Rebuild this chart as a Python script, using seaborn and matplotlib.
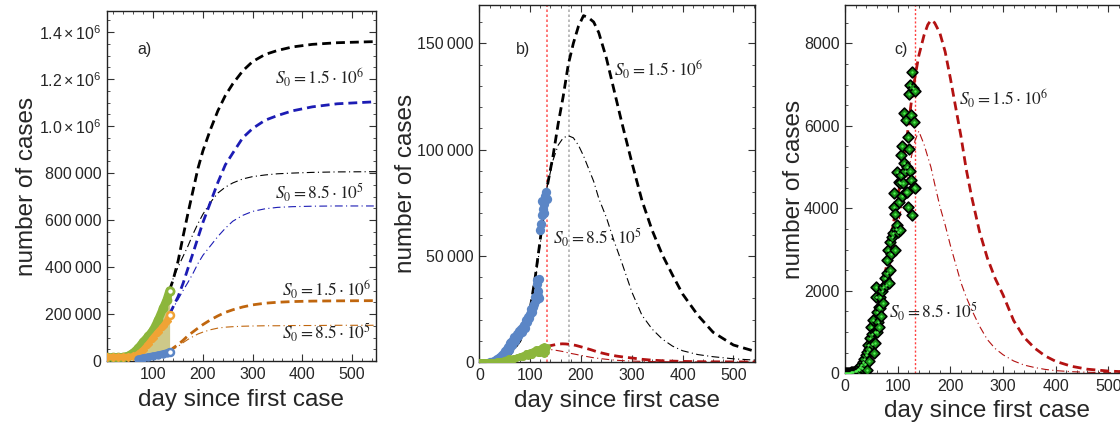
import matplotlib
matplotlib.use('Agg')
import matplotlib.pyplot as plt
import seaborn as sns
from matplotlib.ticker import AutoMinorLocator, FuncFormatter, MultipleLocator

# ---- panel a : cumulative data ----
a_days = [7, 20, 30, 40, 50, 60, 70, 80, 90, 100, 110, 120, 127, 133]
a_green = [15e3, 15e3, 15e3, 17e3, 22e3, 35e3, 55e3, 82e3, 105e3, 132e3, 175e3, 225e3, 260e3, 300e3]
a_orange = [17e3, 17e3, 17e3, 17e3, 18e3, 20e3, 30e3, 48e3, 72e3, 100e3, 125e3, 148e3, 170e3, 195e3]
a_blue_days = [70, 80, 90, 100, 110, 120, 127, 133]
a_blue = [8e3, 14e3, 18e3, 22e3, 26e3, 31e3, 35e3, 40e3]

# ---- panel a : model curves ----
t_a = [133, 140, 150, 160, 170, 180, 190, 200, 215, 230, 245, 260, 280, 300, 325, 350, 380, 420, 470, 550]
a_black_15 = [302e3, 345e3, 425e3, 530e3, 630e3, 725e3, 820e3, 895e3, 985e3, 1065e3, 1130e3, 1180e3,
              1235e3, 1275e3, 1305e3, 1322e3, 1337e3, 1348e3, 1355e3, 1360e3]
a_black_85 = [302e3, 350e3, 400e3, 445e3, 490e3, 540e3, 585e3, 625e3, 675e3, 715e3, 740e3, 758e3,
              775e3, 785e3, 792e3, 797e3, 800e3, 803e3, 805e3, 806e3]
a_blue_15 = [200e3, 230e3, 274e3, 330e3, 395e3, 459e3, 525e3, 590e3, 675e3, 760e3, 835e3, 885e3,
             950e3, 990e3, 1025e3, 1045e3, 1065e3, 1082e3, 1095e3, 1104e3]
a_blue_85 = [200e3, 225e3, 262e3, 300e3, 335e3, 373e3, 415e3, 450e3, 490e3, 530e3, 565e3, 595e3,
             620e3, 637e3, 648e3, 654e3, 657e3, 659e3, 660e3, 660e3]
a_orange_15 = [40e3, 55e3, 70e3, 88e3, 108e3, 124e3, 140e3, 155e3, 175e3, 192e3, 207e3, 218e3,
               230e3, 239e3, 246e3, 250e3, 253e3, 255e3, 256e3, 257e3]
a_orange_85 = [40e3, 50e3, 62e3, 78e3, 92e3, 104e3, 115e3, 123e3, 133e3, 140e3, 144e3, 146e3,
               148e3, 149e3, 150e3, 150e3, 151e3, 151e3, 152e3, 152e3]

# ---- panel b : daily data (blue country) ----
b_blue_days = [20, 24, 28, 32, 35, 38, 40, 42, 44, 46, 48, 50, 52, 54, 56, 58, 60, 62, 64, 66, 68, 70,
               72, 74, 76, 78, 80, 82, 84, 86, 88, 90, 92, 94, 96, 98, 100, 102, 104, 106, 108, 110,
               112, 113, 114, 115, 116, 117, 118, 120, 122, 123, 124, 126, 127, 128, 130, 132, 133]
b_blue = [0, 200, 500, 800, 1200, 1800, 2500, 1500, 3200, 2800, 4200, 5000, 3900, 6000, 7200, 5800,
          8800, 9500, 7800, 10400, 12000, 9800, 11500, 13000, 12400, 14500, 13500, 15600, 14200, 16600,
          17500, 16000, 19800, 18600, 21400, 20500, 22500, 24800, 23500, 26000, 27500, 30800, 29200,
          38600, 36500, 33500, 31000, 30000, 39000, 62000, 65000, 76000, 69000, 72000, 74500, 70000,
          78000, 80000, 76500]

# ---- panel b : model curves ----
t_b = [0, 20, 40, 60, 80, 90, 100, 110, 120, 133, 145, 155, 165, 175, 185, 195, 205, 215, 225, 235,
       250, 265, 280, 300, 320, 340, 360, 380, 400, 430, 460, 500, 550]
b_black_15 = [0, 200, 1000, 3500, 10000, 16000, 25000, 40000, 58000, 82000, 97000, 112000, 125000,
              140000, 150000, 158000, 163000, 162000, 160000, 155000, 143000, 128000, 113000, 94000,
              76000, 62000, 50500, 41000, 32000, 22000, 14000, 8000, 4500]
b_black_85 = [0, 200, 1000, 3300, 9500, 15000, 24000, 38000, 56000, 82000, 95000, 102000, 105500,
              106500, 105500, 102000, 97000, 91000, 85000, 77000, 68000, 57000, 47000, 33000, 22000,
              15500, 10800, 7500, 5300, 3500, 2500, 1500, 800]

# ---- panel c : daily data (green country), also shown in b ----
c_days = [0, 2, 4, 6, 8, 10, 12, 14, 16, 18, 20, 22, 24, 26, 28, 30, 32, 34, 36, 38, 40, 41, 42, 44,
          45, 46, 48, 50, 51, 52, 54, 55, 56, 57, 58, 59, 60, 61, 62, 64, 65, 66, 67, 68, 70, 72, 73,
          75, 77, 79, 80, 82, 83, 85, 86, 88, 90, 91, 92, 93, 94, 95, 96, 98, 99, 101, 102, 103, 104,
          105, 106, 107, 108, 109, 110, 111, 112, 113, 115, 116, 117, 118, 119, 120, 121, 122, 123,
          124, 125, 126, 127, 128, 129, 130, 131, 132, 133]
c_cases = [0, 0, 5, 0, 10, 15, 20, 35, 30, 50, 60, 80, 110, 90, 160, 200, 140, 280, 350, 230, 450, 80,
           520, 686, 300, 600, 850, 1131, 700, 950, 1293, 485, 1000, 727, 1858, 2085, 1495, 1010, 1250,
           1600, 1131, 1858, 1576, 1400, 2000, 2100, 1700, 2300, 2150, 2424, 2747, 2990, 2200, 2505,
           3192, 2900, 3300, 3394, 4030, 4360, 3870, 2990, 3500, 3596, 4888, 3435, 4160, 4645, 3475,
           4607, 5290, 4807, 4300, 5500, 4605, 5100, 6300, 4900, 6140, 4404, 4400, 5000, 4030, 5720,
           5450, 6770, 4910, 6988, 4686, 6260, 3830, 7311, 6907, 4520, 6100, 4485, 6850]

# ---- panel c : model curves (also in b) ----
t_c = [0, 10, 20, 30, 40, 50, 60, 70, 80, 90, 100, 110, 117, 125, 133, 140, 150, 157, 163, 170, 180,
       190, 200, 210, 220, 230, 240, 255, 270, 285, 300, 320, 340, 360, 380, 400, 430, 460, 500, 550]
c_red_15 = [0, 10, 60, 200, 480, 900, 1400, 2000, 2700, 3500, 4250, 5050, 5657, 6500, 7200, 7700,
            8200, 8450, 8565, 8500, 8250, 7800, 7150, 6450, 5750, 4950, 4300, 3450, 2800, 2300, 1900,
            1280, 870, 610, 420, 290, 170, 100, 55, 25]
c_red_85 = [0, 8, 45, 150, 380, 750, 1150, 1650, 2250, 2900, 3550, 4200, 4690, 5200, 5650, 5870,
            5550, 5250, 5000, 4600, 4050, 3600, 3100, 2650, 2200, 1850, 1550, 1150, 820, 600, 450,
            300, 200, 140, 95, 65, 40, 25, 15, 8]

lab15 = r'$S_0 = 1.5 \cdot 10^6$'
lab85 = r'$S_0 = 8.5 \cdot 10^5$'

sns.set_style('ticks')
plt.rcParams['font.family'] = ['Liberation Sans', 'DejaVu Sans']
plt.rcParams['mathtext.fontset'] = 'custom'
plt.rcParams['mathtext.rm'] = 'Liberation Sans'
plt.rcParams['mathtext.it'] = 'Liberation Sans:italic'
plt.rcParams['axes.edgecolor'] = '#222222'
plt.rcParams['axes.linewidth'] = 1.0

DASH = (3.2, 1.8)
DASHDOT = (7, 3, 1, 3)


def curve(ax, x, y, color, kind):
    if kind == 'dash':
        sns.lineplot(x=x, y=y, ax=ax, color=color, lw=2.0, sort=False, estimator=None)
        ax.lines[-1].set_dashes(DASH)
    else:
        sns.lineplot(x=x, y=y, ax=ax, color=color, lw=0.8, sort=False, estimator=None)
        ax.lines[-1].set_dashes(DASHDOT)


def label(ax, x, y, s):
    ax.text(x, y, s, fontsize=12.5, va='center', ha='left', math_fontfamily='stix', color='#222222')


def frame(ax, ymaj, ymin_n):
    ax.xaxis.set_major_locator(MultipleLocator(100))
    ax.xaxis.set_minor_locator(AutoMinorLocator(5))
    ax.yaxis.set_major_locator(MultipleLocator(ymaj))
    ax.yaxis.set_minor_locator(AutoMinorLocator(ymin_n))
    ax.tick_params(which='both', direction='in', top=True, right=True, labelsize=11.5,
                   color='#333333', pad=4)
    ax.tick_params(which='major', length=5, width=0.8)
    ax.tick_params(which='minor', length=2.5, width=0.6)
    for s in ax.spines.values():
        s.set_visible(True)
    ax.set_xlabel('day since first case', fontsize=17.5)
    ax.set_ylabel('number of cases', fontsize=17.5)


def fmt_a(v, pos):
    if v == 0:
        return '0'
    if v >= 1e6 - 1:
        return r'$%.1f\times10^{6}$' % (v / 1e6)
    return '%d\u2009000' % round(v / 1000)


def fmt_b(v, pos):
    if v == 0:
        return '0'
    return '%d\u2009000' % round(v / 1000)


fig = plt.figure(figsize=(11.2, 4.25), dpi=100)
ax_a = fig.add_axes([0.0955, 0.1506, 0.2402, 0.8235])
ax_b = fig.add_axes([0.4280, 0.1482, 0.2459, 0.8400])
ax_c = fig.add_axes([0.7545, 0.1216, 0.2587, 0.8666])

# ---------------- panel a ----------------
ax = ax_a
green_fill = [a_green[a_days.index(d)] for d in a_blue_days]
ax.fill_between(a_blue_days, a_blue, green_fill, color='#c9c47c', alpha=0.9, lw=0, zorder=1)
ax.plot(a_days, a_green, color='#8cb63c', lw=6, marker='o', ms=6, zorder=3, solid_capstyle='round')
ax.plot(a_days, a_orange, color='#f0a335', lw=4.5, marker='D', ms=4, zorder=3, solid_capstyle='round')
ax.plot(a_blue_days, a_blue, color='#5b86c6', lw=5, marker='o', ms=5, zorder=3, solid_capstyle='round')
for yv, c in [(a_green[-1], '#8cb63c'), (a_orange[-1], '#f0a335'), (a_blue[-1], '#5b86c6')]:
    ax.plot([133], [yv], marker='o', ms=5, mfc='white', mec=c, mew=1.8, zorder=4)
curve(ax, t_a, a_black_15, 'black', 'dash')
curve(ax, t_a, a_black_85, 'black', 'dashdot')
curve(ax, t_a, a_blue_15, '#1c1cb4', 'dash')
curve(ax, t_a, a_blue_85, '#1c1cb4', 'dashdot')
curve(ax, t_a, a_orange_15, '#c0660e', 'dash')
curve(ax, t_a, a_orange_85, '#c0660e', 'dashdot')
label(ax, 344, 1.205e6, lab15)
label(ax, 344, 0.715e6, lab85)
label(ax, 360, 0.302e6, lab15)
label(ax, 360, 0.119e6, lab85)
ax.text(68, 1.325e6, 'a)', fontsize=11.5, va='center')
ax.set_xlim(7, 548)
ax.set_ylim(0, 1.49e6)
frame(ax, 2e5, 4)
ax.yaxis.set_major_formatter(FuncFormatter(fmt_a))
ax.yaxis.set_label_coords(-0.257, 0.5)
ax.xaxis.set_label_coords(0.498, -0.08)

# ---------------- panel b ----------------
ax = ax_b
ax.axvline(133, color='#ff6060', lw=1.2, ls=(0, (1.5, 1.5)), zorder=0)
ax.axvline(177, color='#b0b0b0', lw=1.2, ls=(0, (1.5, 1.5)), zorder=0)
sns.scatterplot(x=b_blue_days, y=b_blue, ax=ax, color='#5b86c6', s=45, linewidth=0, zorder=3)
sns.scatterplot(x=c_days, y=c_cases, ax=ax, color='#8cb63c', s=25, linewidth=0, zorder=3)
curve(ax, t_b, b_black_15, 'black', 'dash')
curve(ax, t_b, b_black_85, 'black', 'dashdot')
curve(ax, t_c, c_red_15, '#b31212', 'dash')
curve(ax, t_c, c_red_85, '#b31212', 'dashdot')
label(ax, 265, 137600, lab15)
label(ax, 144, 58300, lab85)
ax.text(72, 147000, 'b)', fontsize=11.5, va='center')
ax.set_xlim(0, 542)
ax.set_ylim(0, 168000)
frame(ax, 50000, 5)
ax.yaxis.set_major_formatter(FuncFormatter(fmt_b))
ax.yaxis.set_label_coords(-0.226, 0.5)
ax.xaxis.set_label_coords(0.499, -0.078)

# ---------------- panel c ----------------
ax = ax_c
ax.axvline(133, color='#ff4040', lw=1.0, ls=(0, (1.5, 1.5)), zorder=0)
curve(ax, t_c, c_red_15, '#b31212', 'dash')
curve(ax, t_c, c_red_85, '#b31212', 'dashdot')
sns.scatterplot(x=c_days, y=c_cases, ax=ax, marker='D', s=30, color='#178f17',
                edgecolor='black', linewidth=1.2, zorder=3)
sns.scatterplot(x=c_days, y=c_cases, ax=ax, marker='o', s=3, color='#50f050', linewidth=0, zorder=4)
label(ax, 216, 6666, lab15)
label(ax, 83, 1493, lab85)
ax.text(94, 7840, 'c)', fontsize=11.5, va='center')
ax.set_xlim(0, 550)
ax.set_ylim(0, 8930)
frame(ax, 2000, 4)
ax.yaxis.set_major_formatter(FuncFormatter(lambda v, p: '%d' % v))
ax.yaxis.set_label_coords(-0.138, 0.5)
ax.xaxis.set_label_coords(0.489, -0.0725)

fig.savefig('out.png', dpi=100)
